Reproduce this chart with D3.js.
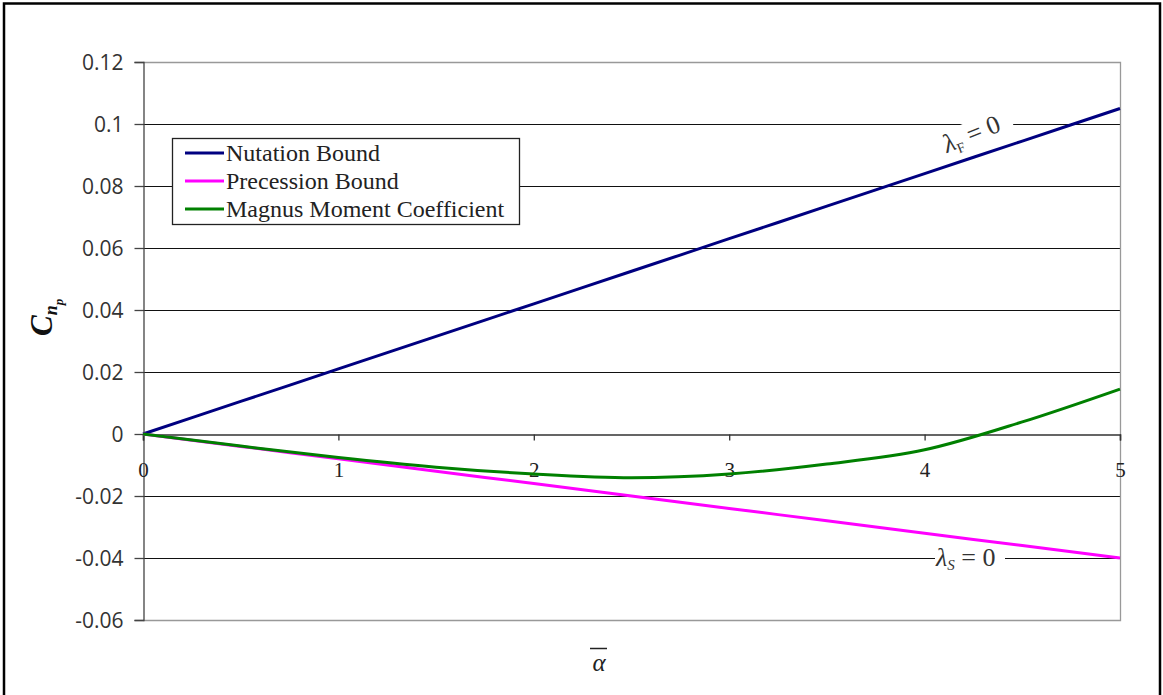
<!DOCTYPE html>
<html>
<head>
<meta charset="utf-8">
<script src="https://cdn.jsdelivr.net/npm/d3@7"></script>
<style>
  body { margin: 0; background: #fff; }
  svg { display: block; }
</style>
</head>
<body>
<div id="chart"></div>
<script>
// values
var alphaValues = [0, 0.5, 1, 1.5, 2, 2.5, 3, 3.5, 4, 4.5, 5];
var nutationBound = [0, 0.0105, 0.021, 0.0315, 0.042, 0.0525, 0.063, 0.0735, 0.084, 0.0945, 0.105];
var precessionBound = [0, -0.004, -0.008, -0.012, -0.016, -0.02, -0.024, -0.028, -0.032, -0.036, -0.04];
var magnusMoment = [0, -0.0039, -0.0076, -0.0107, -0.0129, -0.0141, -0.0129, -0.0097, -0.0051, 0.0039, 0.0145];

var seriesNames = ["Nutation Bound", "Precession Bound", "Magnus Moment Coefficient"];
var seriesColors = ["#000080", "#ff00ff", "#008000"];

var xTicks = [0, 1, 2, 3, 4, 5];
var yTicks = [0.12, 0.1, 0.08, 0.06, 0.04, 0.02, 0, -0.02, -0.04, -0.06];

var W = 1163, H = 695;
var plot = { left: 143, right: 1120, top: 62, bottom: 620 };

var svg = d3.select("#chart").append("svg")
    .attr("width", W)
    .attr("height", H);

// outer frame
svg.append("rect")
    .attr("x", 4).attr("y", 3.5)
    .attr("width", 1156).attr("height", 730)
    .attr("fill", "none")
    .attr("stroke", "#000")
    .attr("stroke-width", 2.5);

var x = d3.scaleLinear().domain([0, 5]).range([plot.left, plot.right]);
var y = d3.scaleLinear().domain([-0.06, 0.12]).range([plot.bottom, plot.top]);

// gridlines (inner ones dark, outer border grey)
svg.append("g").selectAll("line")
    .data(yTicks.filter(function(d) { return d !== 0.12 && d !== -0.06 && d !== 0; }))
    .enter().append("line")
    .attr("x1", plot.left).attr("x2", plot.right)
    .attr("y1", function(d) { return Math.round(y(d)) + 0.5; })
    .attr("y2", function(d) { return Math.round(y(d)) + 0.5; })
    .attr("stroke", "#111")
    .attr("stroke-width", 1);

svg.append("path")
    .attr("d", "M" + plot.left + "," + (plot.top + 0.5) + "H" + (plot.right + 0.5) +
               "V" + (plot.bottom + 0.5) + "H" + plot.left)
    .attr("fill", "none")
    .attr("stroke", "#999")
    .attr("stroke-width", 1.3);

// y axis
var yAxis = d3.axisLeft(y)
    .tickValues(yTicks)
    .tickSize(9)
    .tickPadding(11)
    .tickFormat(function(d) { return d === 0 ? "0" : String(+d.toFixed(2)); });

var gy = svg.append("g")
    .attr("transform", "translate(" + (plot.left + 0.5) + ",0)")
    .call(yAxis);
gy.select(".domain").attr("stroke", "#444").attr("stroke-width", 1.3);
gy.selectAll(".tick line").attr("stroke", "#444").attr("stroke-width", 1.3);
gy.selectAll(".tick text")
    .attr("font-family", "'Open Sans', sans-serif")
    .attr("font-size", 21)
    .attr("fill", "#333")
    .attr("dy", "0.38em");

// x axis on y = 0
var xAxis = d3.axisBottom(x)
    .tickValues(xTicks)
    .tickSize(6)
    .tickPadding(22)
    .tickFormat(d3.format("d"));

var gx = svg.append("g")
    .attr("transform", "translate(0," + (Math.round(y(0)) + 0.5) + ")")
    .call(xAxis);
gx.select(".domain").attr("stroke", "#333").attr("stroke-width", 1.5);
gx.selectAll(".tick line").attr("stroke", "#333").attr("stroke-width", 1.3);
gx.selectAll(".tick text")
    .attr("font-family", "'Liberation Serif', 'Times New Roman', serif")
    .attr("font-size", 21)
    .attr("fill", "#222");

// lambda annotations with white boxes covering gridlines
var lamF = svg.append("g")
    .attr("transform", "translate(947,153) rotate(-22)");
lamF.append("rect")
    .attr("x", -2).attr("y", -21).attr("width", 74).attr("height", 27)
    .attr("fill", "#fff");
var tF = lamF.append("text")
    .attr("font-family", "'Liberation Serif', 'Times New Roman', serif")
    .attr("font-size", 26)
    .attr("fill", "#333");
tF.append("tspan").attr("font-style", "italic").text("λ");
tF.append("tspan").attr("font-size", 14).attr("dy", 5).text("F");
tF.append("tspan").attr("dy", -5).text(" = 0");

var lamS = svg.append("g")
    .attr("transform", "translate(936,566)");
lamS.append("rect")
    .attr("x", -1).attr("y", -19).attr("width", 70).attr("height", 27)
    .attr("fill", "#fff");
var tS = lamS.append("text")
    .attr("font-family", "'Liberation Serif', 'Times New Roman', serif")
    .attr("font-size", 26)
    .attr("fill", "#333");
tS.append("tspan").attr("font-style", "italic").text("λ");
tS.append("tspan").attr("font-style", "italic").attr("font-size", 15).attr("dy", 4).text("S");
tS.append("tspan").attr("dy", -4).text(" = 0");

// series lines
var seriesData = [nutationBound, precessionBound, magnusMoment];
var line = d3.line()
    .x(function(d) { return x(d[0]); })
    .y(function(d) { return y(d[1]); })
    .curve(d3.curveMonotoneX);

svg.append("g").selectAll("path")
    .data(seriesData)
    .enter().append("path")
    .attr("d", function(vals) { return line(alphaValues.map(function(a, i) { return [a, vals[i]]; })); })
    .attr("fill", "none")
    .attr("stroke", function(d, i) { return seriesColors[i]; })
    .attr("stroke-width", 3);

// legend
var legend = svg.append("g");
legend.append("rect")
    .attr("x", 172.5).attr("y", 138.5)
    .attr("width", 347).attr("height", 86)
    .attr("fill", "#fff")
    .attr("stroke", "#222")
    .attr("stroke-width", 1.3);

var item = legend.selectAll(".item")
    .data(seriesNames)
    .enter().append("g")
    .attr("class", "item")
    .attr("transform", function(d, i) { return "translate(0," + (153 + i * 28) + ")"; });
item.append("line")
    .attr("x1", 185).attr("x2", 224)
    .attr("stroke", function(d, i) { return seriesColors[i]; })
    .attr("stroke-width", 3);
item.append("text")
    .attr("x", 226)
    .attr("dy", "0.33em")
    .attr("font-family", "'Liberation Serif', 'Times New Roman', serif")
    .attr("font-size", 24)
    .attr("fill", "#222")
    .text(function(d) { return d; });

// y axis title: C with subscript n, sub-subscript p
var yTitle = svg.append("text")
    .attr("transform", "translate(52,336) rotate(-90)")
    .attr("font-family", "'Liberation Serif', 'Times New Roman', serif")
    .attr("font-weight", "bold")
    .attr("font-style", "italic")
    .attr("font-size", 31)
    .attr("fill", "#111");
yTitle.append("tspan").text("C");
yTitle.append("tspan").attr("font-size", 18).attr("dy", 5).text("n");
yTitle.append("tspan").attr("font-size", 13).attr("dy", 6).text("p");

// x axis title: alpha with overbar
var xTitle = svg.append("g").attr("transform", "translate(599,0)");
xTitle.append("text")
    .attr("y", 671)
    .attr("text-anchor", "middle")
    .attr("font-family", "'Liberation Serif', 'Times New Roman', serif")
    .attr("font-style", "italic")
    .attr("font-size", 25)
    .attr("fill", "#222")
    .text("α");
xTitle.append("line")
    .attr("x1", -9).attr("x2", 8)
    .attr("y1", 648.5).attr("y2", 648.5)
    .attr("stroke", "#222")
    .attr("stroke-width", 1.5);
</script>
</body>
</html>
